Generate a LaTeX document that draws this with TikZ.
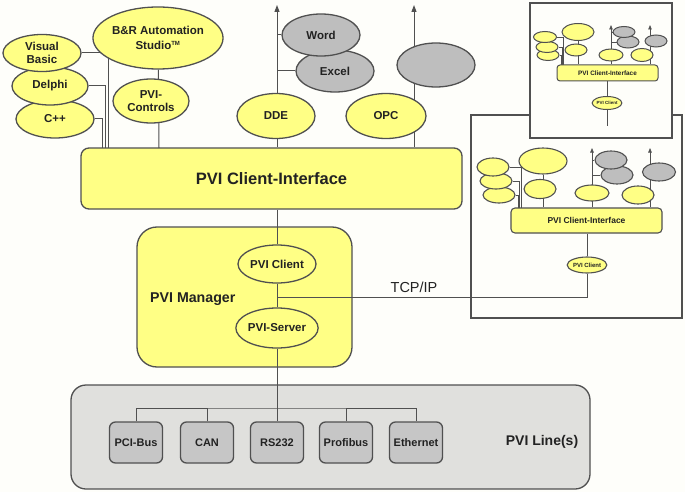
\documentclass[tikz,border=0pt]{standalone}
\usepackage{fontspec}
\setmainfont{Liberation Sans}
\usetikzlibrary{shapes.geometric,arrows.meta}
\pgfdeclarelayer{boxes}
\pgfdeclarelayer{lines}
\pgfsetlayers{boxes,lines,main}
\definecolor{yelC}{HTML}{FFFF85}
\definecolor{grayC}{HTML}{BEBEBE}
\definecolor{lineC}{HTML}{505050}
\definecolor{txtC}{HTML}{222222}
\definecolor{lboxC}{HTML}{E0E0DD}
\definecolor{busC}{HTML}{C6C6C6}
\definecolor{bgC}{HTML}{FEFEFA}
\newcommand\fsz[2]{\fontsize{#1}{#2}\selectfont\bfseries}
\begin{document}
\begin{tikzpicture}[x=1pt,y=-1pt,
  ell/.style={ellipse, draw=lineC, line width=1.3pt, inner sep=0pt, align=center, text=txtC, font=\fsz{11.5}{12.5}},
  yel/.style={ell, fill=yelC},
  gry/.style={ell, fill=grayC},
  sm/.style={line width=0.9pt},
  sz/.style 2 args={minimum width=#1, minimum height=#2},
  rbox/.style={rectangle, draw=lineC, line width=1.3pt, inner sep=0pt, text=txtC},
  conn/.style={draw=lineC, line width=1pt},
  sconn/.style={draw=lineC, line width=0.8pt},
  arr/.style={conn, -{Triangle[length=7pt,width=5pt]}},
  sarr/.style={sconn, -{Triangle[length=4.5pt,width=3.5pt]}},
  plain/.style={inner sep=0pt, text=txtC}
]
\begin{pgfonlayer}{boxes}
\fill[bgC] (0,0) rectangle (685,492);
\useasboundingbox (0,0) rectangle (685,492);
\node[rbox, fill=yelC, rounded corners=8pt, sz={381}{61}, font=\fsz{16.5}{18}] (iface) at (271.5,178.5) {PVI Client-Interface};
\node[rbox, fill=yelC, rounded corners=20pt, sz={215}{140}] (mgr) at (244.5,297) {};
\node[rbox, fill=lboxC, rounded corners=15pt, sz={519}{104}] (lbox) at (330.5,437) {};
\node[rbox, fill=bgC, line width=1.1pt, sz={211}{203}] (bigbox) at (576.5,216.5) {};
\node[rbox, fill=bgC, line width=1.1pt, sz={142}{135}] (smallbox) at (601,70.5) {};
\end{pgfonlayer}

% ---------- main client nodes ----------
\node[yel, sz={78}{38}] (cpp) at (55,119) {C++};
\node[yel, sz={76}{38}] (delphi) at (50,86) {Delphi};
\node[yel, sz={78}{37}] (vb) at (42,53) {Visual\\Basic};
\node[yel, sz={110}{62}] (bra) at (158,38) {B\&R Automation\\[3pt]Studio\textsuperscript{\fsz{6}{6}TM}};
\node[yel, sz={76}{44}] (pvictrl) at (151,101) {PVI-\\Controls};
\node[gry, sz={78}{42}] (excel) at (335,71) {Excel};
\node[gry, sz={78}{42}] (word) at (321,35) {Word};
\node[yel, sz={78}{45}] (dde) at (276,116) {DDE};
\node[yel, sz={80}{45}] (opc) at (386,116) {OPC};
\node[gry, sz={78}{44}] (blank) at (436,65) {};
\coordinate (ddeUp) at (277,5);
\coordinate (opcUp) at (414,5);
\coordinate (j1) at (108,148);
\coordinate (j2) at (105,148);
\coordinate (j3) at (102,148);
\coordinate (jb) at (159,148);

% ---------- manager ----------
\node[plain, anchor=west, font=\fsz{14.2}{15}] (mgrlab) at (150,299) {PVI Manager};
\node[yel, sz={78}{38}] (pvic) at (277,264) {PVI Client};
\node[yel, sz={78}{40}] (pvis) at (277,328) {PVI-Server};
\coordinate (tcp) at (277,297);
\node[plain, font=\fontsize{14.5}{15}\selectfont] (tcplab) at (414,287) {TCP/IP};

% ---------- lines ----------
\node[plain, font=\fsz{14}{15}] (linelab) at (542,442) {PVI Line(s)};
\foreach \n/\x/\t in {pci/136/PCI-Bus, can/207/CAN, rs/277/RS232, prof/346/Profibus, eth/416/Ethernet}{
  \node[rbox, fill=busC, rounded corners=6pt, sz={53}{41}, font=\fsz{11}{12}] (\n) at (\x,442.5) {\t};
}
\coordinate (bus) at (277,408);

% ---------- big box contents ----------
\begin{scope}[ell/.append style={line width=1.1pt}]
\node[yel, sz={32}{16}] (b3) at (499,195) {};
\node[yel, sz={32}{16}] (b2) at (496,181) {};
\node[yel, sz={32}{18}] (b1) at (493,167) {};
\node[yel, sz={48}{26}] (bbig) at (543,161) {};
\node[yel, sz={32}{19}] (bsec) at (540,189) {};
\node[rbox, fill=yelC, line width=1.1pt, rounded corners=4pt, sz={151}{25}, font=\fsz{8.5}{9}] (biface) at (586.5,220.5) {PVI Client-Interface};
\node[gry, sz={32}{18}] (bexcel) at (617,175) {};
\node[gry, sz={32}{18}] (bword) at (611,160) {};
\node[yel, sz={34}{16}] (bdde) at (592,193) {};
\node[yel, sz={32}{18}] (bopc) at (638,195) {};
\node[gry, sz={33}{18}] (bblank) at (659,172) {};
\node[yel, sz={38}{16}, font=\fsz{6}{6}] (bpvic) at (587,265) {PVI Client};
\end{scope}
\coordinate (bddeUp) at (592,148);
\coordinate (bopcUp) at (650,148);
\coordinate (bj1) at (521,208);
\coordinate (bj2) at (519.5,208);
\coordinate (bj3) at (518,208);

% ---------- small box contents ----------
\begin{scope}[ell/.append style={line width=1pt}]
\node[yel, sz={22}{11}] (s3) at (548,55) {};
\node[yel, sz={22}{11}] (s2) at (547,47) {};
\node[yel, sz={23}{11}] (s1) at (545,37) {};
\node[yel, sz={32}{17}] (sbig) at (578,32) {};
\node[yel, sz={22}{12}] (ssec) at (576,50) {};
\node[rbox, fill=yelC, line width=1pt, rounded corners=3pt, sz={101}{16}, font=\fsz{6.4}{7}] (siface) at (607.5,73) {PVI Client-Interface};
\node[gry, sz={22}{12}] (sexcel) at (628,42) {};
\node[gry, sz={22}{11}] (sword) at (624,32) {};
\node[yel, sz={24}{12}] (sdde) at (611,55) {};
\node[yel, sz={22}{13}] (sopc) at (642,55) {};
\node[gry, sz={22}{12}] (sblank) at (656,41) {};
\node[yel, sz={27}{13}, font=\fsz{4.5}{5}] (spvic) at (607,103) {PVI Client};
\end{scope}
\coordinate (sddeUp) at (611,25);
\coordinate (sopcUp) at (650,25);
\coordinate (sj1) at (563,65);
\coordinate (sj2) at (562,65);
\coordinate (sj3) at (561,65);
\coordinate (sEnd) at (607,126);

% ---------- connectors ----------
\begin{pgfonlayer}{lines}
% main top
\draw[conn] (vb) -| (j1);
\draw[conn] (delphi) -| (j2);
\draw[conn] (cpp) -| (j3);
\draw[conn] (bra) -- (jb);
\draw[arr] (iface.north -| ddeUp) -- (ddeUp);
\draw[conn] (word.west) -- (word.west -| ddeUp);
\draw[conn] (excel.west) -- (excel.west -| ddeUp);
\draw[arr] (iface.north -| opcUp) -- (opcUp);
% manager
\draw[conn] (iface.south -| pvic) -- (pvic);
\draw[conn] (pvic) -- (pvis);
\draw[conn] (pvis) -- (rs);
\draw[conn] (tcp) -| (bpvic);
% bus
\draw[conn] (pci) |- (bus) -| (eth);
\draw[conn] (can) -- (can |- bus);
\draw[conn] (prof) -- (prof |- bus);
% big box
\draw[sconn] (b1) -| (bj1);
\draw[sconn] (b2) -| (bj2);
\draw[sconn] (b3) -| (bj3);
\draw[sconn] (bbig) -- (bbig |- biface.north);
\draw[sarr] (biface.north -| bddeUp) -- (bddeUp);
\draw[sconn] (bword.west) -- (bword.west -| bddeUp);
\draw[sconn] (bexcel.west) -- (bexcel.west -| bddeUp);
\draw[sarr] (biface.north -| bopcUp) -- (bopcUp);
\draw[sconn] (biface.south -| bpvic) -- (bpvic);
% small box
\draw[sconn] (s1) -| (sj1);
\draw[sconn] (s2) -| (sj2);
\draw[sconn] (s3) -| (sj3);
\draw[sconn] (sbig) -- (sbig |- siface.north);
\draw[sarr] (siface.north -| sddeUp) -- (sddeUp);
\draw[sconn] (sword.west) -- (sword.west -| sddeUp);
\draw[sconn] (sexcel.west) -- (sexcel.west -| sddeUp);
\draw[sarr] (siface.north -| sopcUp) -- (sopcUp);
\draw[sconn] (siface.south -| spvic) -- (spvic);
\draw[sconn] (spvic) -- (sEnd);
\end{pgfonlayer}
\end{tikzpicture}
\end{document}
